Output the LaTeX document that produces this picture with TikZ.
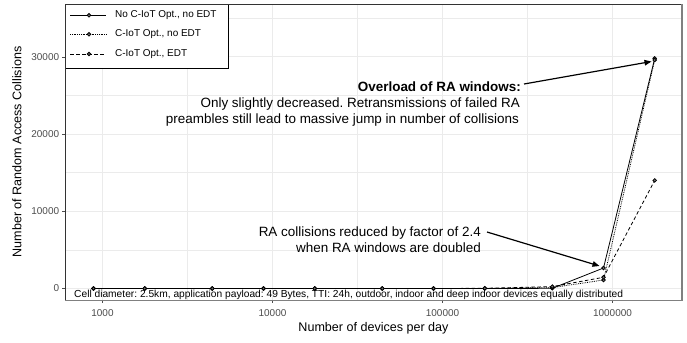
\documentclass[tikz,border=0pt]{standalone}
\usepackage{fontspec}
\setmainfont{Liberation Sans}
\usetikzlibrary{arrows.meta}
\definecolor{gridc}{HTML}{EBEBEB}
\definecolor{tickc}{HTML}{4D4D4D}
\definecolor{framec}{HTML}{333333}
\frenchspacing
\begin{document}
\begin{tikzpicture}[x=1bp,y=-1bp,
  majgrid/.style={gridc,line width=0.9bp},
  mingrid/.style={gridc,line width=0.5bp},
  serA/.style={black,line width=0.8bp},
  serB/.style={black,line width=0.8bp,densely dotted},
  serC/.style={black,line width=0.8bp,dash pattern=on 3.5bp off 2.5bp},
  ptmark/.style={draw=black,fill=black!55,line width=0.8bp},
  ticklab/.style={tickc,font=\fontsize{10}{12}\selectfont},
  tickmark/.style={tickc,line width=0.6bp},
  titlelab/.style={font=\fontsize{12.6}{15}\selectfont},
  annot/.style={font=\fontsize{13.5}{16}\selectfont,inner sep=0pt},
  legtext/.style={font=\fontsize{10}{12}\selectfont,anchor=west,inner sep=0pt},
  arrowl/.style={line width=1.2bp,-{Triangle[length=7bp,width=5.5bp]}}
]
\useasboundingbox (0,0) rectangle (687,342);
\fill[white] (0,0) rectangle (687,342);
% grid
\foreach \gx in {187.5,357.5,527.5} \draw[mingrid] (\gx,4) -- (\gx,300.5);
\foreach \gy in {249.9,172.7,95.5,18.3} \draw[mingrid] (65,\gy) -- (682,\gy);
\foreach \gx in {102.5,272.5,442.5,612.5} \draw[majgrid] (\gx,4) -- (\gx,300.5);
\foreach \gy in {288.5,211.3,134.1,56.9} \draw[majgrid] (65,\gy) -- (682,\gy);
% data coordinates
\foreach \n/\x/\ya/\yb/\yc in {
 1/93.5/288.5/288.5/288.5, 2/144.7/288.5/288.5/288.5, 3/212.3/288.5/288.5/288.5,
 4/263.5/288.5/288.5/288.5, 5/314.7/288.5/288.5/288.5, 6/382.3/288.5/288.5/288.5,
 7/433.5/288.5/288.5/288.5, 8/484.7/288.5/288.4/288.3, 9/552.3/288.3/287.6/286.6,
 10/603.5/268.0/280.0/277.3, 11/654.7/58.4/60.0/180.4}{
  \coordinate (a\n) at (\x,\ya);
  \coordinate (b\n) at (\x,\yb);
  \coordinate (c\n) at (\x,\yc);
}
\draw[serA] (a1)--(a2)--(a3)--(a4)--(a5)--(a6)--(a7)--(a8)--(a9)--(a10)--(a11);
\draw[serB] (b1)--(b2)--(b3)--(b4)--(b5)--(b6)--(b7)--(b8)--(b9)--(b10)--(b11);
\draw[serC] (c1)--(c2)--(c3)--(c4)--(c5)--(c6)--(c7)--(c8)--(c9)--(c10)--(c11);
\foreach \n in {1,...,11}{
  \draw[ptmark] (a\n) circle (1.8bp);
  \draw[ptmark] (b\n) circle (1.8bp);
  \draw[ptmark] (c\n) circle (1.8bp);
}
% legend
\draw[black,fill=white,line width=0.7bp] (65,4) rectangle (228,68);
\coordinate (k1l) at (70,15.3); \coordinate (k1r) at (106,15.3); \coordinate (k1m) at (89,15.3);
\coordinate (k2l) at (70,34.3); \coordinate (k2r) at (106,34.3); \coordinate (k2m) at (89,34.3);
\coordinate (k3l) at (70,54); \coordinate (k3r) at (106,54); \coordinate (k3m) at (89,54);
\draw[serA] (k1l) -- (k1r); \draw[ptmark] (k1m) circle (1.8bp);
\draw[serB] (k2l) -- (k2r); \draw[ptmark] (k2m) circle (1.8bp);
\draw[serC] (k3l) -- (k3r); \draw[ptmark] (k3m) circle (1.8bp);
\node[legtext] (l1) at (115,15.3) {No C-IoT Opt., no EDT};
\node[legtext] (l2) at (115,34.3) {C-IoT Opt., no EDT};
\node[legtext] (l3) at (115,54) {C-IoT Opt., EDT};
% frame
\draw[framec,line width=0.6bp] (65,4) rectangle (682,300.5);
\draw[gray,line width=1.2bp] (682,4) -- (682,300.5) -- (65,300.5);
% ticks
\foreach \gx/\lab in {102.5/1000,272.5/10000,442.5/100000,612.5/1000000}{
  \draw[tickmark] (\gx,300.5) -- (\gx,303.3);
  \node[ticklab] (xt\lab) at (\gx,313) {\lab};
}
\foreach \gy/\lab in {288.5/0,211.3/10000,134.1/20000,56.9/30000}{
  \draw[tickmark] (62.2,\gy) -- (65,\gy);
  \node[ticklab,anchor=east,inner sep=0pt] (yt\lab) at (59.3,\gy) {\lab};
}
% titles
\node[titlelab] (xtitle) at (373.5,328.5) {Number of devices per day};
\node[titlelab,rotate=90] (ytitle) at (17,152) {Number of Random Access Collisions};
% footnote
\node[anchor=base west,inner sep=0pt,font=\fontsize{10.25}{12}\selectfont] (foot) at (74,297.5)
  {Cell diameter: 2.5km, application payload: 49 Bytes, TTI: 24h, outdoor, indoor and deep indoor devices equally distributed};
% annotations
\node[annot,anchor=base east,font=\fontsize{13.5}{16}\selectfont\bfseries] (ov1) at (521,91.3) {Overload of RA windows:};
\node[annot,anchor=base east] (ov2) at (520,107.5) {Only slightly decreased. Retransmissions of failed RA};
\node[annot,anchor=base east] (ov3) at (519,123.8) {preambles still lead to massive jump in number of collisions};
\node[annot,anchor=base east] (ra1) at (481,236.8) {RA collisions reduced by factor of 2.4};
\node[annot,anchor=base east] (ra2) at (481,252.8) {when RA windows are doubled};
\coordinate (ovS) at (524,84);
\coordinate (ovE) at (651.5,61.5);
\coordinate (raS) at (487,232);
\coordinate (raE) at (599.5,266);
\draw[arrowl] (ovS) -- (ovE);
\draw[arrowl] (raS) -- (raE);
\end{tikzpicture}
\end{document}
